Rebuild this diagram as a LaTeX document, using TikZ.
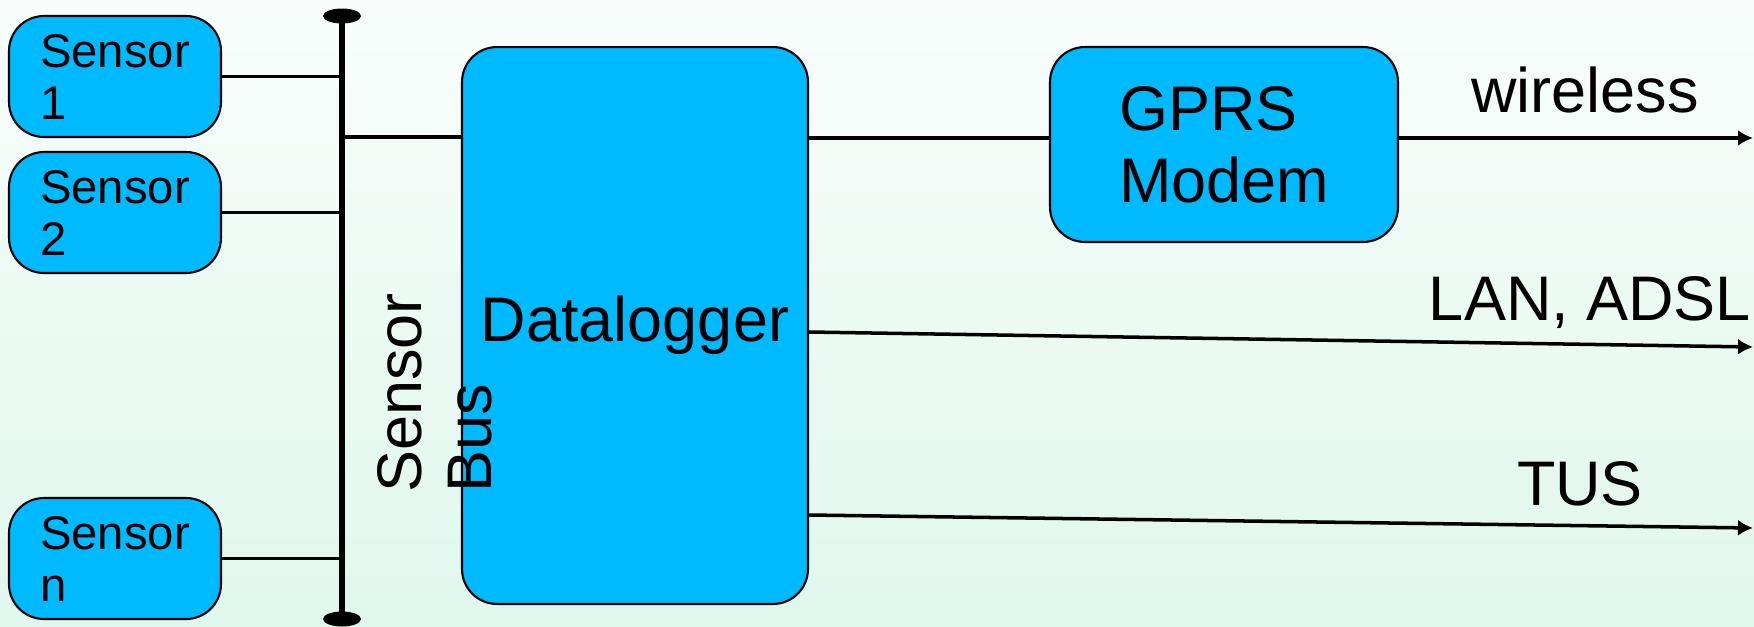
\documentclass[tikz,border=0pt]{standalone}
\usepackage{fontspec}
\setmainfont{Liberation Sans}
\usetikzlibrary{arrows.meta, positioning, calc, shapes.geometric}
\definecolor{boxblue}{RGB}{0,186,255}
\definecolor{bgtop}{RGB}{248,253,251}
\definecolor{bgbottom}{RGB}{223,247,236}

\tikzset{
  blk/.style={draw, line width=1.2pt, rounded corners=0.7cm, fill=boxblue, inner sep=0pt},
  sensorbox/.style={blk, minimum width=4.24cm, minimum height=2.42cm, align=left,
      font=\fontsize{26.9pt}{29.6pt}\selectfont},
  bigtext/.style={font=\fontsize{35.85pt}{41pt}\selectfont},
  wire/.style={line width=2pt},
}

\begin{document}
\begin{tikzpicture}[x=0.02cm, y=-0.02cm, >={Latex[length=3mm,width=3.2mm]}]

      \shade[top color=bgtop, bottom color=bgbottom] (0,0) rectangle (1754,626);
      \useasboundingbox (0,0) rectangle (1754,626);

      % sensors on the left
      \node[sensorbox] (s1) at (115,76.5) {Sensor\\1};
      \node[sensorbox] (s2) at (115,212.5) {Sensor\\2};
      \node[sensorbox] (sn) at (115,558.5) {Sensor\\n};

      % bus with its two end caps
      \coordinate (bustop) at (342,16);
      \coordinate (busbot) at (342,619);
      \draw[line width=3.6pt] (bustop) -- (busbot);
      \fill (bustop) ellipse [x radius=19, y radius=7.5];
      \fill (busbot) ellipse [x radius=19, y radius=7.5];

      \draw[wire] (s1.east) -- (s1.east -| bustop);
      \draw[wire] (s2.east) -- (s2.east -| bustop);
      \draw[wire] (sn.east) -- (sn.east -| bustop);

      % datalogger and modem
      \node[blk, bigtext, minimum width=6.92cm, minimum height=11.14cm] (dl) at (635,325.5) {Datalogger};
      \node[blk, bigtext, align=left, minimum width=6.96cm, minimum height=3.9cm] (gprs) at (1224,144.5) {GPRS\\Modem};

      % bus label runs over the datalogger edge
      \node[rotate=90, align=left, anchor=north west, inner sep=0pt,
          font=\fontsize{35.85pt}{39.8pt}\selectfont] (buslabel) at (377,493) {Sensor\\Bus};

      \draw[wire] (342,137) -- (dl.west |- 0,137);
      \draw[wire] (dl.east |- 0,138) -- (gprs.west |- 0,138);

      % outgoing links
      \coordinate (outw) at (1753,138);
      \coordinate (outl) at (1753,347);
      \coordinate (outt) at (1753,528);
      \draw[wire, ->] (gprs.east |- outw) -- (outw);
      \draw[wire, ->] (dl.east |- 0,332) -- (outl);
      \draw[wire, ->] (dl.east |- 0,515) -- (outt);

      \node[bigtext, anchor=base] (lw) at (1585,112) {wireless};
      \node[bigtext, anchor=base] (ll) at (1590,320) {LAN, ADSL};
      \node[bigtext, anchor=base] (lt) at (1580,505) {TUS};
    \end{tikzpicture}
\end{document}
